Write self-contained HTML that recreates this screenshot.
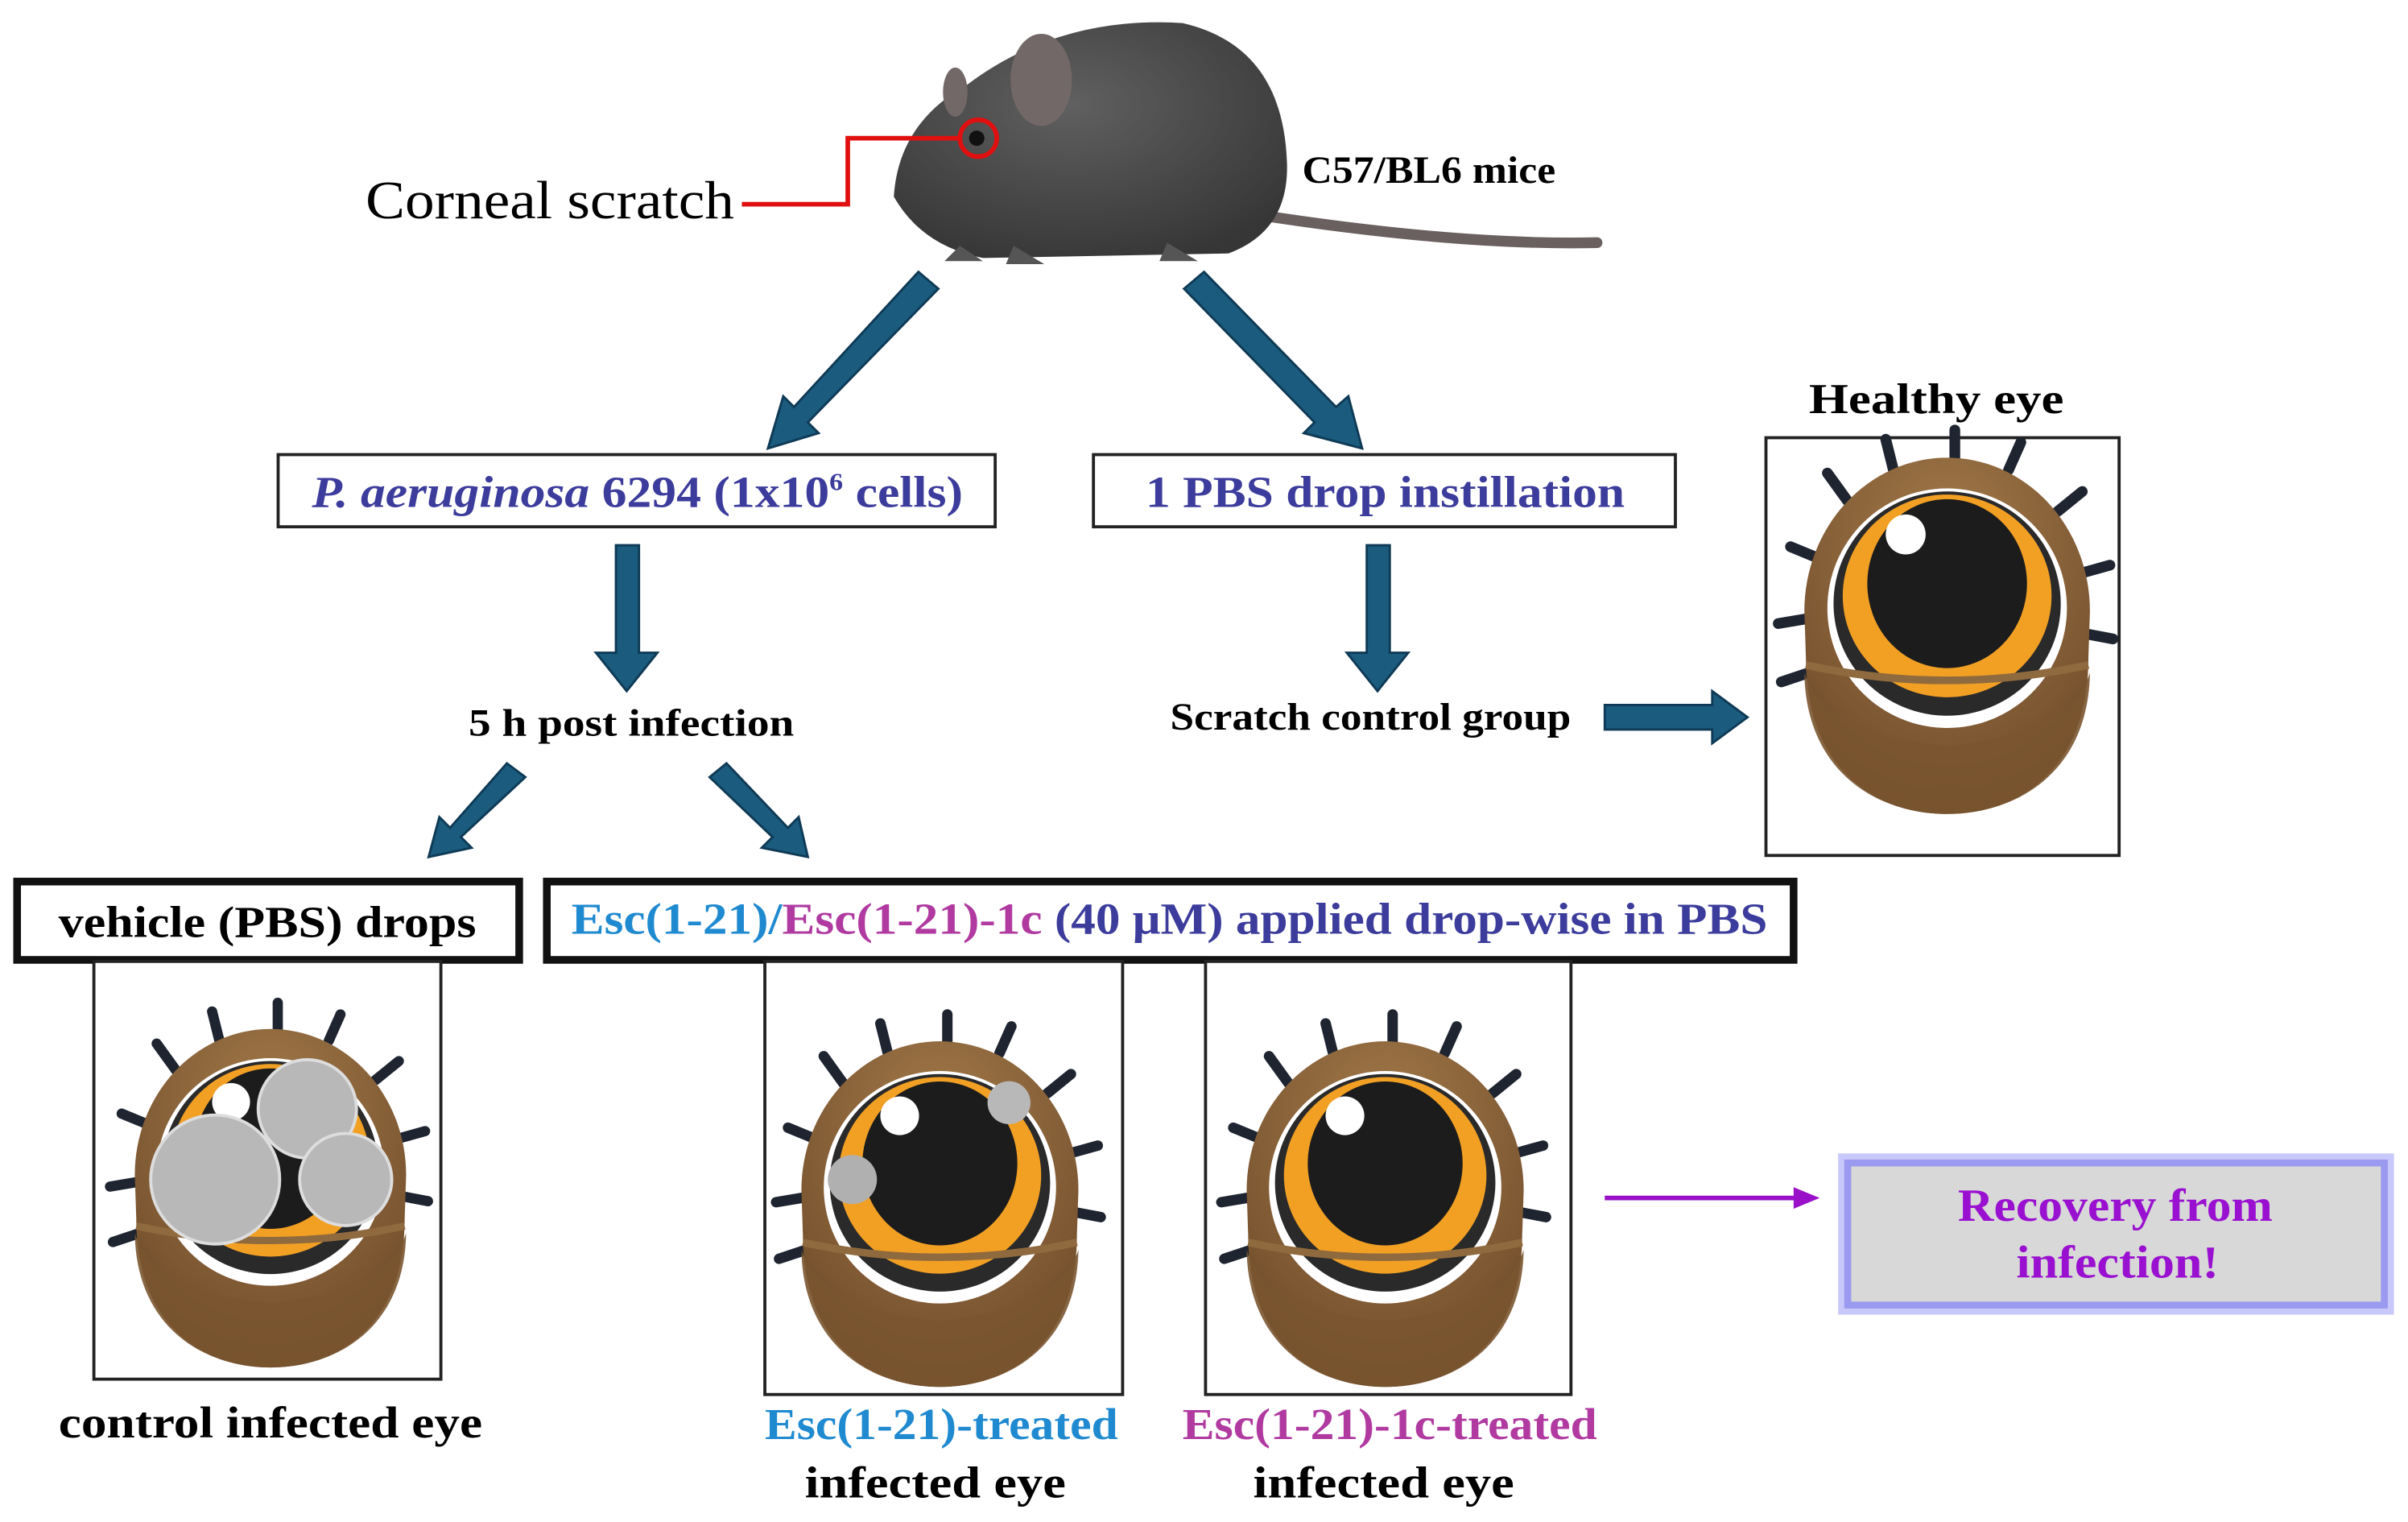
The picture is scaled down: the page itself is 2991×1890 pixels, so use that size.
<!DOCTYPE html>
<html><head><meta charset="utf-8"><style>
html,body{margin:0;padding:0;background:#fff}
svg{display:block}
text{font-family:"Liberation Serif",serif;font-weight:bold}
</style></head><body>
<svg width="2991" height="1890" viewBox="0 0 1568 991" xmlns="http://www.w3.org/2000/svg">
<defs>
<radialGradient id="br" cx="0.5" cy="0.25" r="0.85"><stop offset="0" stop-color="#a37a4a"/><stop offset="0.7" stop-color="#7a5530"/><stop offset="1" stop-color="#4e3318"/></radialGradient>
<radialGradient id="mo" cx="0.45" cy="0.35" r="0.7"><stop offset="0" stop-color="#606060"/><stop offset="1" stop-color="#363636"/></radialGradient>
<g id="eye">
  <g stroke="#1e2430" stroke-width="7" stroke-linecap="round">
    <line x1="-65" y1="-72" x2="-78" y2="-90"/><line x1="-35" y1="-92" x2="-40" y2="-112"/>
    <line x1="5" y1="-100" x2="5" y2="-118"/><line x1="40" y1="-92" x2="48" y2="-110"/>
    <line x1="72" y1="-65" x2="88" y2="-78"/><line x1="88" y1="-25" x2="106" y2="-30"/>
    <line x1="92" y1="15" x2="108" y2="18"/><line x1="-85" y1="-35" x2="-102" y2="-42"/>
    <line x1="-92" y1="5" x2="-110" y2="8"/><line x1="-90" y1="40" x2="-108" y2="46"/>
  </g>
  <path d="M-93,0 A93,100 0 0 1 93,0 L92,30 C92,105 45,132 0,132 C-45,132 -92,105 -92,30Z" fill="url(#br)"/>
  <ellipse cx="0" cy="-2" rx="78" ry="78" fill="#fff"/>
  <ellipse cx="0" cy="-5" rx="74" ry="73" fill="#2a2a2a"/>
  <ellipse cx="0" cy="-10" rx="68" ry="66" fill="#f2a024"/>
  <ellipse cx="0" cy="-18" rx="52" ry="55" fill="#1c1c1c"/>
  <circle cx="-27" cy="-50" r="13" fill="#fff"/>
  <path d="M-92,35 Q0,55 92,35" stroke="#8f6a3e" stroke-width="5" fill="none"/>
  <path d="M-93,40 C-92,105 -45,132 0,132 C45,132 92,105 93,40 Q80,80 0,88 Q-80,80 -93,40Z" fill="#7a5530" opacity="0.9"/>
</g>
</defs>

<!-- mouse -->
<path d="M820,140 Q950,160 1040,158" stroke="#6a6060" stroke-width="7" fill="none" stroke-linecap="round"/>
<path d="M582,128 Q585,80 630,55 Q690,10 770,15 Q835,30 838,105 Q840,150 800,165 L640,168 Q600,160 582,128Z" fill="url(#mo)"/>
<ellipse cx="678" cy="52" rx="20" ry="30" fill="#726867"/>
<ellipse cx="622" cy="60" rx="8" ry="16" fill="#726867"/>
<path d="M625,160 l-10,10 h25Z M660,160 l-5,12 h25Z M760,158 l-5,12 h25Z" fill="#555"/>
<circle cx="637" cy="90" r="12" fill="none" stroke="#e01010" stroke-width="3"/>
<circle cx="636" cy="90" r="5" fill="#111"/>
<polyline points="483,133 552,133 552,90 625,90" fill="none" stroke="#e01010" stroke-width="3"/>
<text x="238" y="142" font-size="35" style="font-weight:normal" textLength="240" lengthAdjust="spacingAndGlyphs">Corneal scratch</text>
<text x="848" y="119" font-size="25" textLength="165" lengthAdjust="spacingAndGlyphs">C57/BL6 mice</text>

<!-- arrows -->
<g fill="#1a5b7e" stroke="#0e3a55" stroke-width="1.5">
  <path d="M598,177 L611,188 L526,275 L533,282 L500,292 L510,258 L517,265Z"/>
  <path d="M784,177 L771,188 L856,275 L849,282 L887,292 L878,258 L870,265Z"/>
  <path d="M401,355 L416,355 L416,425 L428,425 L408,450 L388,425 L401,425Z"/>
  <path d="M890,355 L905,355 L905,425 L917,425 L897,450 L877,425 L890,425Z"/>
  <path d="M330,497 L342,506 L300,545 L307,552 L279,558 L286,532 L293,539Z"/>
  <path d="M473,497 L462,506 L503,545 L496,552 L526,558 L520,532 L513,539Z"/>
  <path d="M1045,459 L1115,459 L1115,450 L1138,467 L1115,484 L1115,475 L1045,475Z"/>
</g>

<!-- boxes -->
<rect x="181" y="296" width="467" height="47" fill="#fff" stroke="#222" stroke-width="2"/>
<text x="203" y="330" font-size="29" fill="#3c3c9c" textLength="424" lengthAdjust="spacingAndGlyphs"><tspan font-style="italic">P. aeruginosa</tspan> 6294 (1x10<tspan font-size="16" dy="-11">6</tspan><tspan dy="11"> cells)</tspan></text>
<rect x="712" y="296" width="379" height="47" fill="#fff" stroke="#222" stroke-width="2"/>
<text x="746" y="330" font-size="29" fill="#3c3c9c" textLength="312" lengthAdjust="spacingAndGlyphs">1 PBS drop instillation</text>
<text x="305" y="479" font-size="25" textLength="212" lengthAdjust="spacingAndGlyphs">5 h post infection</text>
<text x="762" y="475" font-size="25" textLength="261" lengthAdjust="spacingAndGlyphs">Scratch control group</text>
<text x="1178" y="269" font-size="28" textLength="166" lengthAdjust="spacingAndGlyphs">Healthy eye</text>
<rect x="1150" y="285" width="230" height="272" fill="#fff" stroke="#222" stroke-width="2"/>
<use href="#eye" transform="translate(1268,398)"/>

<rect x="11" y="574" width="327" height="51" fill="#fff" stroke="#111" stroke-width="5"/>
<text x="38" y="610" font-size="29" textLength="272" lengthAdjust="spacingAndGlyphs">vehicle (PBS) drops</text>
<rect x="356" y="574" width="812" height="51" fill="#fff" stroke="#111" stroke-width="5"/>
<text x="372" y="608" font-size="29" textLength="779" lengthAdjust="spacingAndGlyphs"><tspan fill="#1f8ad0">Esc(1-21)/</tspan><tspan fill="#b03aa0">Esc(1-21)-1c</tspan><tspan fill="#3c3c9c"> (40 μM) applied drop-wise in PBS</tspan></text>

<rect x="61" y="626" width="226" height="272" fill="#fff" stroke="#222" stroke-width="2"/>
<use href="#eye" transform="translate(176,765) scale(0.95)"/>
<g fill="#b8b8b8" stroke="#ddd" stroke-width="2">
  <circle cx="200" cy="722" r="32"/><circle cx="140" cy="768" r="42"/><circle cx="225" cy="768" r="30"/>
</g>
<rect x="498" y="626" width="233" height="282" fill="#fff" stroke="#222" stroke-width="2"/>
<use href="#eye" transform="translate(612,775) scale(0.97)"/>
<circle cx="657" cy="718" r="14" fill="#b8b8b8"/><circle cx="555" cy="768" r="16" fill="#b0b0b0"/>
<rect x="785" y="626" width="238" height="282" fill="#fff" stroke="#222" stroke-width="2"/>
<use href="#eye" transform="translate(902,775) scale(0.97)"/>

<text x="38" y="936" font-size="29" textLength="276" lengthAdjust="spacingAndGlyphs">control infected eye</text>
<text x="498" y="937" font-size="29" fill="#1f8ad0" textLength="230" lengthAdjust="spacingAndGlyphs">Esc(1-21)-treated</text>
<text x="524" y="975" font-size="29" textLength="170" lengthAdjust="spacingAndGlyphs">infected eye</text>
<text x="770" y="937" font-size="29" fill="#b03aa0" textLength="270" lengthAdjust="spacingAndGlyphs">Esc(1-21)-1c-treated</text>
<text x="816" y="975" font-size="29" textLength="170" lengthAdjust="spacingAndGlyphs">infected eye</text>

<line x1="1045" y1="780" x2="1172" y2="780" stroke="#9a10c8" stroke-width="3"/>
<path d="M1168,773 L1185,780 L1168,787Z" fill="#9a10c8"/>
<rect x="1203" y="757" width="350" height="93" fill="#d8d8d8" stroke="#9a9af0" stroke-width="5"/>
<rect x="1199" y="753" width="358" height="101" fill="none" stroke="#c8c8fa" stroke-width="4"/>
<text x="1275" y="795" font-size="30" fill="#9a10d0" textLength="205" lengthAdjust="spacingAndGlyphs">Recovery from</text>
<text x="1313" y="832" font-size="30" fill="#9a10d0" textLength="132" lengthAdjust="spacingAndGlyphs">infection!</text>
</svg>
</body></html>
